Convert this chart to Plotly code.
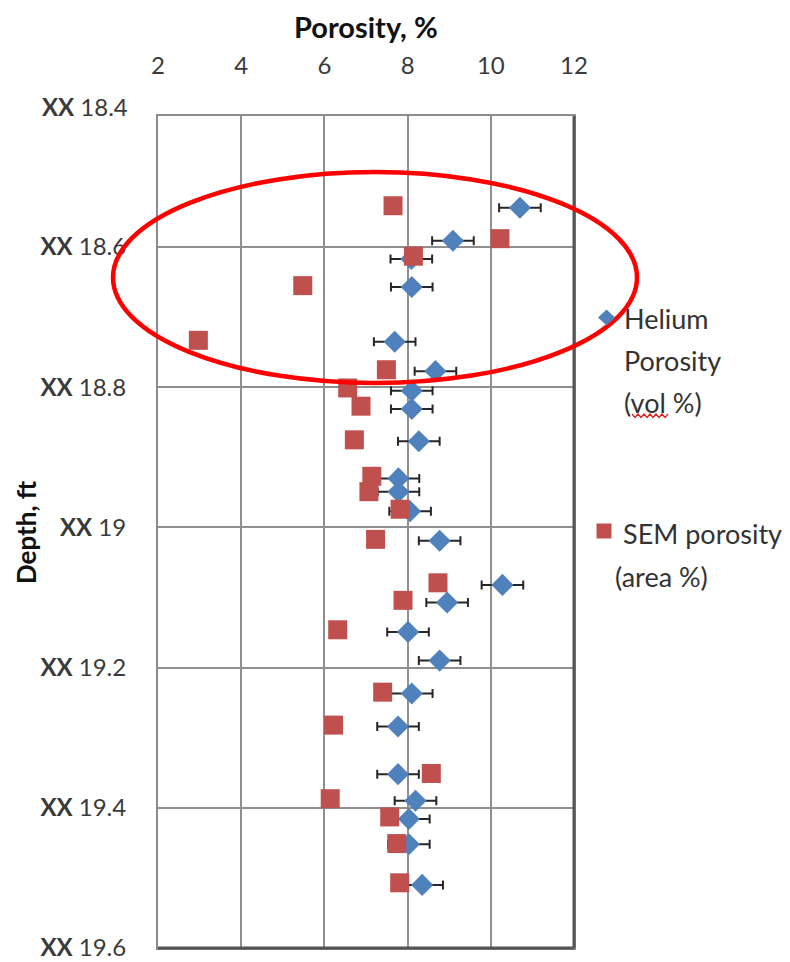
import plotly.graph_objects as go

# Helium porosity (vol %) with +/- measurement uncertainty
helium_depth = [18.544, 18.591, 18.617, 18.657, 18.735, 18.777, 18.805, 18.831,
                18.877, 18.930, 18.949, 18.977, 19.019, 19.082, 19.107, 19.149,
                19.190, 19.237, 19.284, 19.352, 19.390, 19.416, 19.452, 19.510]
helium_por = [10.70, 9.09, 8.09, 8.10, 7.69, 8.67, 8.10, 8.10,
              8.27, 7.78, 7.78, 8.06, 8.77, 10.28, 8.95, 8.01,
              8.77, 8.10, 7.77, 7.77, 8.19, 8.03, 8.03, 8.35]
helium_err = [0.5] * len(helium_por)

# SEM image porosity (area %)
sem_depth = [18.541, 18.588, 18.613, 18.655, 18.733, 18.775, 18.801, 18.827,
             18.875, 18.927, 18.949, 18.974, 19.017, 19.079, 19.104, 19.146,
             19.235, 19.282, 19.351, 19.387, 19.413, 19.451, 19.507]
sem_por = [7.65, 10.22, 8.14, 5.48, 2.97, 7.49, 6.56, 6.88,
           6.72, 7.14, 7.07, 7.82, 7.23, 8.73, 7.89, 6.32,
           7.40, 6.22, 8.57, 6.14, 7.57, 7.74, 7.81]

x_ticks = [2, 4, 6, 8, 10, 12]
depth_ticks = [18.6, 18.8, 19.0, 19.2, 19.4, 19.6]
depth_labels = ["18.6", "18.8", "19", "19.2", "19.4", "19.6"]
top_label_depth = 18.4
top_label = "18.4"
depth_range = [19.6, 18.413]

W, H = 790, 962
ML, MR, MT, MB = 158, 216, 116, 14
PW, PH = W - ML - MR, H - MT - MB

TICK_FONT = dict(family="Lato", size=24, color="#3a3a3a")
LEG_FONT = dict(family="Lato", size=27, color="#333333")
TITLE_FONT = dict(family="Lato", size=29, color="#111111")
YTITLE_FONT = dict(family="Lato", size=26, color="#111111")
BLUE, RED = "#4F81BD", "#C0504D"


def px_x(px):
    return (px - ML) / PW


def px_y(py):
    return (H - MB - py) / PH


def depth_to_paper(d):
    bottom, top = depth_range
    return (d - bottom) / (top - bottom)


def xx(label):
    return "<b>XX</b> " + label


fig = go.Figure()

fig.add_trace(go.Scatter(
    x=helium_por, y=helium_depth, mode="markers", name="Helium Porosity (vol %)",
    marker=dict(symbol="diamond", size=17, color=BLUE),
    error_x=dict(type="data", array=helium_err, color="#262626", thickness=2, width=4.5),
    showlegend=False,
))
fig.add_trace(go.Scatter(
    x=sem_por, y=sem_depth, mode="markers", name="SEM porosity (area %)",
    marker=dict(symbol="square", size=19, color=RED),
    showlegend=False,
))

shapes = []
# darker right and bottom frame edges
shapes.append(dict(type="line", xref="paper", yref="paper", x0=1, x1=1, y0=0, y1=1,
                   line=dict(color="#555555", width=3)))
shapes.append(dict(type="line", xref="paper", yref="paper", x0=0, x1=1, y0=0, y1=0,
                   line=dict(color="#555555", width=3)))
# highlight ellipse around the upper interval
shapes.append(dict(type="circle", xref="paper", yref="paper",
                   x0=px_x(113), x1=px_x(637), y0=px_y(383), y1=px_y(172),
                   line=dict(color="#FF0000", width=4.5)))

# legend symbols
cx, cy, hw, hh = 606.5, 317.5, 8.5, 8
shapes.append(dict(type="path", xref="paper", yref="paper",
                   path=f"M{px_x(cx - hw)},{px_y(cy)} L{px_x(cx)},{px_y(cy - hh)} "
                        f"L{px_x(cx + hw)},{px_y(cy)} L{px_x(cx)},{px_y(cy + hh)} Z",
                   fillcolor=BLUE, line=dict(width=0)))
sx, sy, hs = 604, 531, 7.5
shapes.append(dict(type="rect", xref="paper", yref="paper",
                   x0=px_x(sx - hs), x1=px_x(sx + hs), y0=px_y(sy + hs), y1=px_y(sy - hs),
                   fillcolor=RED, line=dict(width=0)))
# wavy underline under "vol"
pts = []
xs = 632
k = 0
while xs <= 668:
    pts.append((xs, 414 if k % 2 == 0 else 417.5))
    xs += 3
    k += 1
path = "M" + " L".join(f"{px_x(a)},{px_y(b)}" for a, b in pts)
shapes.append(dict(type="path", xref="paper", yref="paper", path=path,
                   line=dict(color="#E02020", width=1.2)))

annotations = []
legend_lines = [("Helium", 621.5, 318), ("Porosity", 621.5, 360), ("(vol %)", 621.5, 402),
                ("SEM porosity", 621, 533), ("(area %)", 612.5, 576)]
for txt, lx, ly in legend_lines:
    annotations.append(dict(text=txt, xref="paper", yref="paper", x=px_x(lx), y=px_y(ly),
                            xanchor="left", yanchor="middle", showarrow=False, font=LEG_FONT))

# top depth label sits just above the frame
annotations.append(dict(text=xx(top_label), xref="paper", yref="paper", x=px_x(130),
                        y=depth_to_paper(top_label_depth), xanchor="right", yanchor="middle",
                        showarrow=False, font=TICK_FONT))
# axis titles
annotations.append(dict(text="<b>Porosity, %</b>", xref="paper", yref="paper",
                        x=0.5, y=px_y(26), xanchor="center", yanchor="middle",
                        showarrow=False, font=TITLE_FONT))
annotations.append(dict(text="<b>Depth, ft</b>", xref="paper", yref="paper",
                        x=px_x(26), y=0.5, xanchor="center", yanchor="middle", textangle=-90,
                        showarrow=False, font=YTITLE_FONT))

fig.update_layout(
    width=W, height=H,
    margin=dict(l=ML, r=MR, t=MT, b=MB, autoexpand=False),
    paper_bgcolor="white", plot_bgcolor="white",
    shapes=shapes, annotations=annotations,
    xaxis=dict(side="top", range=[2, 12], tickvals=x_ticks, tickfont=TICK_FONT,
               showgrid=True, gridcolor="#8f8f8f", gridwidth=1.8, zeroline=False,
               showline=True, mirror=True, linecolor="#8c8c8c", linewidth=2,
               ticks="", ticklabelstandoff=30),
    yaxis=dict(range=depth_range, tickvals=depth_ticks,
               ticktext=[xx(t) for t in depth_labels], tickfont=TICK_FONT,
               showgrid=True, gridcolor="#8f8f8f", gridwidth=1.8, zeroline=False,
               showline=True, mirror=True, linecolor="#8c8c8c", linewidth=2,
               ticks="", ticklabelstandoff=25),
)

fig.write_html("out.html")
